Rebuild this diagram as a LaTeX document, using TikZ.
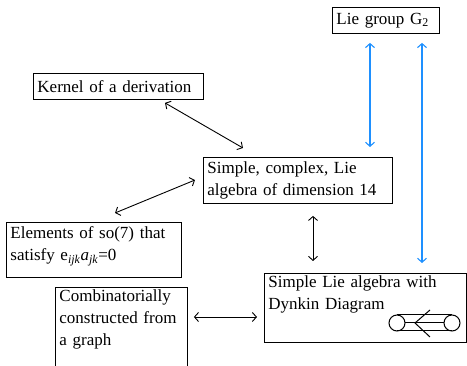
\documentclass[tikz,border=0pt]{standalone}
\usepackage{fontspec}
\setmainfont{Liberation Serif}
\usetikzlibrary{arrows.meta,calc}
\definecolor{lblue}{RGB}{30,144,255}
\begin{document}
\begin{tikzpicture}[x=1pt,y=-1pt,
  box/.style={draw, line width=0.9pt, anchor=north west, align=left, inner xsep=4pt, inner ysep=2pt, font=\fontsize{17}{22}\selectfont},
  arr/.style={black, line width=0.9pt, {Straight Barb[length=4pt,width=9pt]}-{Straight Barb[length=4pt,width=9pt]}},
  barr/.style={lblue, line width=1.1pt, {Straight Barb[length=4pt,width=9pt]}-{Straight Barb[length=4pt,width=9pt]}},
  dyn/.style={line width=1pt}]
\useasboundingbox (0,0) rectangle (467,366);
\node[box, text width=99pt, minimum height=26pt] (lie) at (332,7) {Lie group G\textsubscript{2}};
\node[box, text width=162pt, minimum height=26pt] (ker) at (33,73) {Kernel of a derivation};
\node[box, text width=181pt, minimum height=46pt] (sc) at (203,157) {Simple, complex, Lie\\algebra of dimension 14};
\node[box, text width=167pt, minimum height=55pt] (el) at (6,222) {Elements of so(7) that\\satisfy e\textsubscript{\textit{ijk}}\textit{a}\textsubscript{\textit{jk}}=0\rule[-12pt]{0pt}{12pt}};
\node[box, text width=194pt] (sla) at (264,273) {Simple Lie algebra with\\Dynkin Diagram\rule[-31pt]{0pt}{31pt}};
\node[box, text width=124pt] (comb) at (55,287) {Combinatorially\\constructed from\\a graph\rule[-30pt]{0pt}{30pt}};
% Dynkin diagram of G2
\draw[dyn] (397,323) circle (8);
\draw[dyn] (452,323) circle (8);
\draw[dyn] (397,315) -- (452,315);
\draw[dyn] (405,323) -- (444,323);
\draw[dyn] (397,331) -- (452,331);
\draw[dyn] (430,310) -- (415,323) -- (430,337);
% connectors
\coordinate (vx) at (313,0);
\coordinate (hy) at (0,317);
\coordinate (b1) at (370,0);
\coordinate (b2) at (422,0);
\draw[arr] ([shift={(132,3)}]ker.south west) -- ([shift={(40,-9)}]sc.north west);
\draw[arr] ([shift={(109,-9)}]el.north west) -- ([shift={(-8,23)}]sc.north west);
\draw[arr, shorten <=12pt, shorten >=12pt] (sc.south -| vx) -- (sla.north -| vx);
\draw[arr, shorten <=6pt, shorten >=7pt] (comb.east |- hy) -- (sla.west |- hy);
\draw[barr, shorten <=9pt, shorten >=10pt] (lie.south -| b1) -- (sc.north -| b1);
\draw[barr, shorten <=9pt, shorten >=10pt] (lie.south -| b2) -- (sla.north -| b2);
\end{tikzpicture}
\end{document}
